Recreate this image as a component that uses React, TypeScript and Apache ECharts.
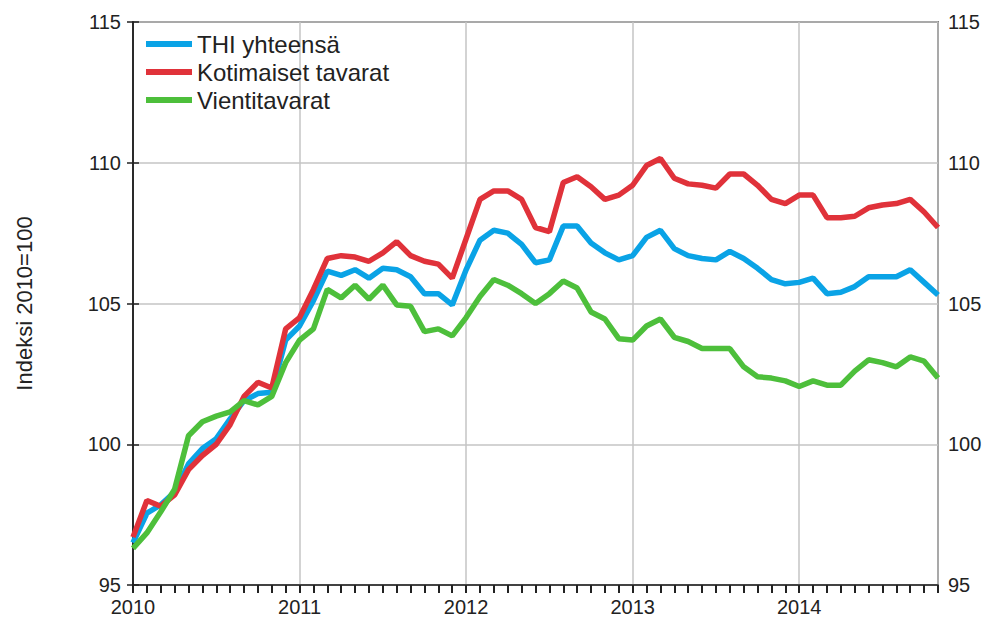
import React, { useEffect, useRef } from "react";
import * as echarts from "echarts";

const years = ["2010", "2011", "2012", "2013", "2014"];
const monthCount = 59; // Jan 2010 .. Nov 2014

const thi = [
  96.5, 97.55, 97.85, 98.3, 99.3, 99.85, 100.2, 100.9, 101.55, 101.8, 101.85, 103.7,
  104.2, 105.1, 106.15, 106.0, 106.2, 105.9, 106.25, 106.2, 105.95, 105.35, 105.35, 104.95,
  106.2, 107.25, 107.6, 107.5, 107.1, 106.45, 106.55, 107.75, 107.75, 107.15, 106.8, 106.55,
  106.7, 107.35, 107.6, 106.95, 106.7, 106.6, 106.55, 106.85, 106.6, 106.25, 105.85, 105.7,
  105.75, 105.9, 105.35, 105.4, 105.6, 105.95, 105.95, 105.95, 106.2, 105.75, 105.3,
];

const kotimaiset = [
  96.7, 98.0, 97.8, 98.2, 99.1, 99.6, 100.0, 100.7, 101.7, 102.2, 102.0, 104.1,
  104.5, 105.5, 106.6, 106.7, 106.65, 106.5, 106.8, 107.2, 106.7, 106.5, 106.4, 105.9,
  107.3, 108.7, 109.0, 109.0, 108.7, 107.7, 107.55, 109.3, 109.5, 109.15, 108.7, 108.85,
  109.2, 109.9, 110.15, 109.45, 109.25, 109.2, 109.1, 109.6, 109.6, 109.2, 108.7, 108.55,
  108.85, 108.85, 108.05, 108.05, 108.1, 108.4, 108.5, 108.55, 108.7, 108.25, 107.7,
];

const vienti = [
  96.3, 96.85, 97.6, 98.4, 100.3, 100.8, 101.0, 101.15, 101.55, 101.4, 101.7, 102.9,
  103.7, 104.1, 105.5, 105.2, 105.65, 105.15, 105.65, 104.95, 104.9, 104.0, 104.1, 103.85,
  104.5, 105.25, 105.85, 105.65, 105.35, 105.0, 105.35, 105.8, 105.55, 104.7, 104.45, 103.75,
  103.7, 104.2, 104.45, 103.8, 103.65, 103.4, 103.4, 103.4, 102.75, 102.4, 102.35, 102.25,
  102.05, 102.25, 102.1, 102.1, 102.6, 103.0, 102.9, 102.75, 103.1, 102.95, 102.35,
];

const seriesNames = ["THI yhteensä", "Kotimaiset tavarat", "Vientitavarat"];
const colors = ["#0aa3e6", "#e0323a", "#4dbf3b"];

export default function App() {
  const ref = useRef<HTMLDivElement>(null);
  useEffect(() => {
    document.body.style.margin = "0";
    if (!ref.current) return;
    const chart = echarts.init(ref.current, undefined, { renderer: "svg" });
    const font = "'Liberation Sans', Arial, sans-serif";
    const dark = "#222";
    const grey = "#c4c4c4";
    const yAxisBase = {
      type: "value" as const,
      min: 95,
      max: 115,
      interval: 5,
      axisLine: { show: true, lineStyle: { color: dark, width: 1.5 } },
      axisTick: { show: true, inside: false, length: 6, lineStyle: { color: dark, width: 1.5 } },
      axisLabel: { color: dark, fontSize: 20, fontFamily: font },
    };
    const toPairs = (arr: number[]) => arr.map((v, i) => [i, v]);
    chart.setOption({
      animation: false,
      backgroundColor: "#fff",
      grid: {
        left: 133,
        right: 49,
        top: 22,
        bottom: 33,
        show: true,
        borderColor: dark,
        borderWidth: 1.5,
      },
      legend: {
        data: seriesNames,
        orient: "vertical",
        left: 141,
        top: 27,
        itemGap: 4,
        itemWidth: 46,
        itemHeight: 6,
        icon: "rect",
        textStyle: { fontSize: 24, fontFamily: font, color: dark },
      },
      xAxis: [
        {
          type: "value",
          position: "bottom",
          min: 0,
          max: monthCount - 1,
          interval: 1,
          axisLine: { show: true, lineStyle: { color: dark, width: 1.5 } },
          axisTick: { show: true, length: 8, lineStyle: { color: dark, width: 2 } },
          axisLabel: {
            show: true,
            formatter: (v: number) => (v % 12 === 0 ? years[v / 12] ?? "" : ""),
            color: dark,
            fontSize: 20,
            fontFamily: font,
            margin: 12,
          },
          splitLine: { show: false },
        },
        {
          type: "value",
          position: "top",
          min: 0,
          max: monthCount - 1,
          interval: 12,
          axisLine: { show: false },
          axisTick: { show: false },
          axisLabel: { show: false },
          splitLine: { show: true, lineStyle: { color: grey, width: 1.5 } },
        },
      ],
      yAxis: [
        {
          ...yAxisBase,
          position: "left",
          name: "Indeksi 2010=100",
          nameLocation: "middle",
          nameGap: 98,
          nameRotate: 90,
          nameTextStyle: { fontSize: 22, fontFamily: font, color: dark },
          axisLabel: { ...yAxisBase.axisLabel, margin: 12 },
          splitLine: { show: true, lineStyle: { color: grey, width: 1.5 } },
        },
        {
          ...yAxisBase,
          position: "right",
          axisLabel: { ...yAxisBase.axisLabel, margin: 10 },
          splitLine: { show: false },
        },
      ],
      series: [
        { name: seriesNames[0], data: toPairs(thi) },
        { name: seriesNames[1], data: toPairs(kotimaiset) },
        { name: seriesNames[2], data: toPairs(vienti) },
      ].map((s, i) => ({
        ...s,
        type: "line",
        xAxisIndex: 0,
        yAxisIndex: 0,
        showSymbol: false,
        symbol: "none",
        color: colors[i],
        lineStyle: { width: 5.5, color: colors[i] },
      })),
    });
    return () => chart.dispose();
  }, []);
  return <div ref={ref} style={{ width: 987, height: 618 }} />;
}
